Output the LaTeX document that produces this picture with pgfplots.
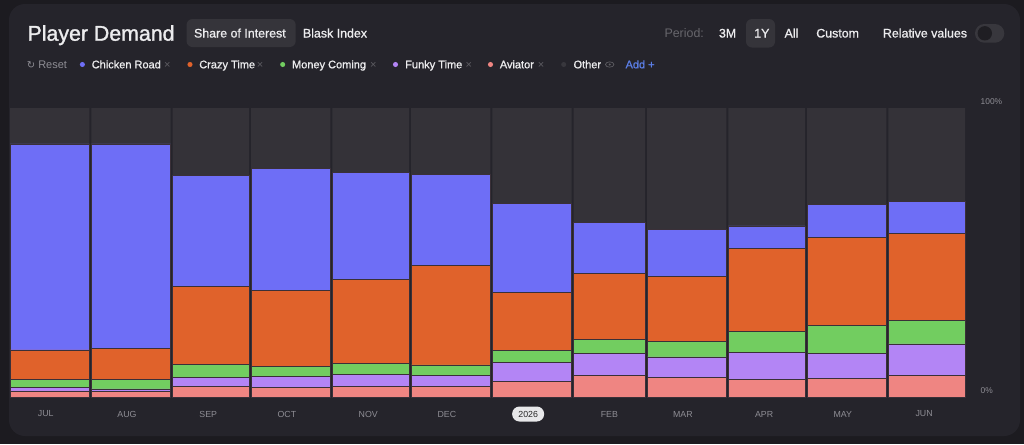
\documentclass[border=0pt]{standalone}
\usepackage{pgfplots}
\pgfplotsset{compat=1.18}
\usepackage{pgfplotstable}
\usepackage{fontspec}
\setmainfont{Liberation Sans}
\newfontfamily\semi[FakeBold=0.9]{Liberation Sans}
\newfontfamily\titlefont[FakeBold=1.4]{Liberation Sans}
\newfontfamily\dejavu{DejaVu Sans}
\definecolor{outerbg}{HTML}{1C1B20}
\definecolor{cardbg}{HTML}{25242B}
\definecolor{othergray}{HTML}{343238}
\definecolor{cblue}{HTML}{6E6EF6}
\definecolor{corange}{HTML}{E0622B}
\definecolor{cgreen}{HTML}{72CD60}
\definecolor{cpurple}{HTML}{B385F5}
\definecolor{cpink}{HTML}{EF8582}
\definecolor{edge}{HTML}{3A3038}
\definecolor{labelgray}{HTML}{8E8D94}
\definecolor{dimgray}{HTML}{67666C}
\definecolor{xgray}{HTML}{5E5D63}
\definecolor{pillbg}{HTML}{35343A}
\definecolor{pillwhite}{HTML}{E8E8EA}
\definecolor{addblue}{HTML}{5B7EE6}
\definecolor{toggle}{HTML}{38373D}
\definecolor{knob}{HTML}{1F1E23}
\definecolor{txt}{HTML}{ECECEE}

% x = first day of month (days from 1 Jul), shares in percent
\pgfplotstableread{
x    av   fu   mo   cr   ch   ot
0    2.1  1.3  2.8  10.1 71.3 12.4
31   1.8  1.0  3.3  10.7 70.8 12.4
62   3.6  3.3  4.3  27.1 38.5 23.2
92   3.4  3.7  3.4  26.5 42.0 21.0
123  3.6  4.2  3.9  29.1 37.0 22.2
153  3.6  3.9  3.6  34.3 31.7 22.9
184  5.5  6.5  4.0  20.3 30.8 32.9
215  7.5  7.6  4.9  22.7 17.8 39.5
243  6.9  7.0  5.3  22.5 16.4 41.9
274  6.2  9.2  7.4  28.5 7.9  40.8
304  6.3  8.9  9.6  30.5 11.3 33.4
335  7.5  10.9 8.2  29.9 11.3 32.2
365  7.5  10.9 8.2  29.9 11.3 32.2
}\demand
% running totals for the stack
\pgfplotstablecreatecol[create col/expr={\thisrow{av}}]{s1}\demand
\pgfplotstablecreatecol[create col/expr={\thisrow{s1}+\thisrow{fu}}]{s2}\demand
\pgfplotstablecreatecol[create col/expr={\thisrow{s2}+\thisrow{mo}}]{s3}\demand
\pgfplotstablecreatecol[create col/expr={\thisrow{s3}+\thisrow{cr}}]{s4}\demand
\pgfplotstablecreatecol[create col/expr={\thisrow{s4}+\thisrow{ch}}]{s5}\demand
\pgfplotstablecreatecol[create col/expr={\thisrow{s5}+\thisrow{ot}}]{s6}\demand

\pgfplotsset{monthbar/.style={/pgf/bar interval width=0.975, /pgf/bar interval shift=0.5}}

\begin{document}
\begin{tikzpicture}[x=0.75pt,y=-0.75pt]
\fill[outerbg] (0,0) rectangle (1024,444);
\fill[cardbg, rounded corners=12pt] (9,4) rectangle (1020,436);

% header
\node[anchor=base west, inner sep=0, text=txt, font=\titlefont\fontsize{16}{16}\selectfont] at (27.3,40.7) {Player Demand};
\fill[pillbg, rounded corners=4.5pt] (186.5,19) rectangle (295.7,47);
\fill[pillbg, rounded corners=4.5pt] (746,19) rectangle (775,47.5);
\begin{scope}[every node/.style={anchor=base west, inner sep=0, text=txt, font=\semi\fontsize{9.3}{9.3}\selectfont}]
\node at (193.8,37.5) {Share of Interest};
\node at (302.7,37.5) {Blask Index};
\node[text=dimgray, font=\fontsize{9.3}{9.3}\selectfont] at (664.3,37.5) {Period:};
\node at (718.7,37.5) {3M};
\node at (754,37.5) {1Y};
\node at (784.3,37.5) {All};
\node at (816,37.5) {Custom};
\node at (882.7,37.5) {Relative values};
\end{scope}
\fill[toggle, rounded corners=7pt] (975,24) rectangle (1004.3,42.7);
\fill[knob] (984.8,33.3) circle (5.4pt);

% filter row
\begin{scope}[every node/.style={anchor=base west, inner sep=0, text=txt, font=\semi\fontsize{8.25}{8.25}\selectfont}]
\node[text=labelgray, font=\dejavu\fontsize{7.5}{7.5}\selectfont] at (26.5,68.3) {↻};
\node[text=labelgray, font=\fontsize{8.25}{8.25}\selectfont] at (38,68.3) {Reset};
\fill[cblue] (82.4,64.5) circle (1.9pt);
\node at (91.5,68.3) {Chicken Road};
\fill[corange] (190,64.5) circle (1.9pt);
\node at (199,68.3) {Crazy Time};
\fill[cgreen] (282.7,64.5) circle (1.9pt);
\node at (291.8,68.3) {Money Coming};
\fill[cpurple] (395.5,64.5) circle (1.9pt);
\node at (405,68.3) {Funky Time};
\fill[cpink] (490.5,64.5) circle (1.9pt);
\node at (499.6,68.3) {Aviator};
\fill[toggle] (563.7,64.5) circle (1.9pt);
\node at (573.3,68.3) {Other};
\node[text=addblue] at (625.3,68.3) {Add +};
\end{scope}
\begin{scope}[every node/.style={anchor=base, inner sep=0, text=xgray, font=\fontsize{8.25}{8.25}\selectfont}]
\node at (167.4,68.3) {×};
\node at (260,68.3) {×};
\node at (373.4,68.3) {×};
\node at (468.8,68.3) {×};
\node at (541.2,68.3) {×};
\end{scope}
\draw[xgray, line width=0.5pt] (609.7,64.5) ellipse (3.2pt and 2pt);
\fill[xgray] (609.7,64.5) circle (0.9pt);

\begin{axis}[
  at={(6.75pt,-297.75pt)}, anchor=south west,
  scale only axis, width=717.75pt, height=216.75pt,
  xmin=0, xmax=365, ymin=0, ymax=100,
  enlargelimits=false,
  ybar interval=0.975,
  every axis plot post/.append style={monthbar},
  xmajorgrids=false, ymajorgrids=false,
  axis line style={draw=none},
  major tick length=0pt,
  xtick={14,45,76,106,137,167,229,257,288,318,349},
  xticklabels={JUL,AUG,SEP,OCT,NOV,DEC,FEB,MAR,APR,MAY,JUN},
  x tick label as interval=false,
  extra x ticks={198}, extra x tick labels={2026},
  extra x tick style={grid=none, xticklabel style={fill=pillwhite, text=black!85, rounded corners=5.5pt, minimum width=24pt, minimum height=11.25pt, inner sep=0pt}},
  xticklabel style={anchor=center, yshift=-12.75pt, font=\fontsize{6.6}{6.6}\selectfont, text=labelgray},
  ytick={0,100}, yticklabels={0\%,100\%}, ytick pos=right,
  yticklabel style={anchor=west, xshift=7.5pt, yshift=4.5pt, font=\fontsize{6.3}{6.3}\selectfont, text=labelgray},
]
\addplot[monthbar, fill=othergray, draw=none] table[x=x,y=s6]{\demand};
\addplot[monthbar, fill=cblue, draw=edge, line width=0.5pt] table[x=x,y=s5]{\demand};
\addplot[monthbar, fill=corange, draw=edge, line width=0.5pt] table[x=x,y=s4]{\demand};
\addplot[monthbar, fill=cgreen, draw=edge, line width=0.5pt] table[x=x,y=s3]{\demand};
\addplot[monthbar, fill=cpurple, draw=edge, line width=0.5pt] table[x=x,y=s2]{\demand};
\addplot[monthbar, fill=cpink, draw=edge, line width=0.5pt] table[x=x,y=s1]{\demand};
\end{axis}
\end{tikzpicture}
\end{document}
